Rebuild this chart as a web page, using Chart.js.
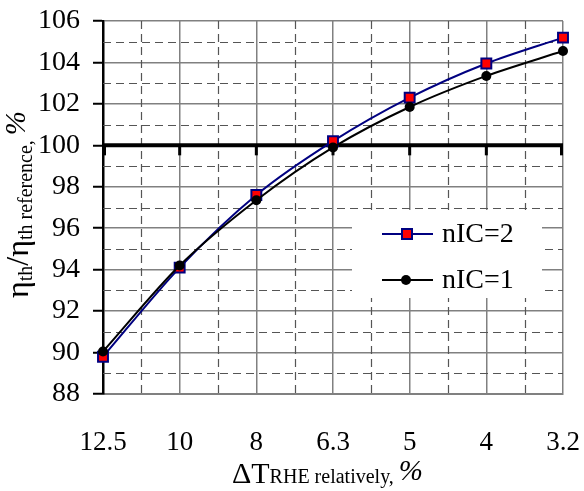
<!DOCTYPE html>
<html>
<head>
<meta charset="utf-8">
<script src="https://cdn.jsdelivr.net/npm/chart.js@4"></script>
<style>
html,body{margin:0;padding:0;background:#fff;}
#wrap{position:relative;width:584px;height:491px;}
</style>
</head>
<body>
<div id="wrap"><canvas id="c"></canvas></div>
<script>
const categories = ['12.5', '10', '8', '6.3', '5', '4', '3.2'];
const seriesNIC2 = [89.8, 94.1, 97.6, 100.2, 102.3, 103.95, 105.2];
const seriesNIC1 = [90.05, 94.2, 97.35, 99.9, 101.85, 103.35, 104.55];
const seriesNames = ['nIC=2', 'nIC=1'];
const yMin = 88, yMax = 106, yStep = 2;
const referenceLevel = 100;

const SERIF = "'Liberation Serif', 'DejaVu Serif', 'Times New Roman', serif";

const gridPlugin = {
  id: 'gridExtras',
  beforeDatasetsDraw(chart) {
    const {ctx, chartArea: a, scales: {x, y}} = chart;
    ctx.save();
    ctx.strokeStyle = '#555';
    ctx.lineWidth = 1.2;
    ctx.setLineDash([8, 5]);
    for (let v = yMin + yStep / 2; v < yMax; v += yStep) {
      const py = Math.round(y.getPixelForValue(v)) + 0.5;
      ctx.beginPath(); ctx.moveTo(a.left, py); ctx.lineTo(a.right, py); ctx.stroke();
    }
    for (let i = 0; i < categories.length - 1; i++) {
      const px = Math.round((x.getPixelForValue(i) + x.getPixelForValue(i + 1)) / 2) + 0.5;
      ctx.beginPath(); ctx.moveTo(px, a.top); ctx.lineTo(px, a.bottom); ctx.stroke();
    }
    ctx.setLineDash([]);
    const ry = y.getPixelForValue(referenceLevel);
    ctx.strokeStyle = '#000';
    ctx.lineWidth = 4;
    ctx.beginPath(); ctx.moveTo(a.left, ry); ctx.lineTo(a.right, ry); ctx.stroke();
    ctx.lineWidth = 3;
    for (let i = 0; i < categories.length; i++) {
      let px = x.getPixelForValue(i);
      if (i === 0) px += 1.5;
      if (i === categories.length - 1) px -= 1.5;
      ctx.beginPath(); ctx.moveTo(px, ry); ctx.lineTo(px, ry + 10); ctx.stroke();
    }
    ctx.restore();
  },
  afterDatasetsDraw(chart) {
    const {ctx} = chart;
    ctx.save();
    const bx = 352, by = 210, bw = 190, bh = 88;
    ctx.fillStyle = '#fff';
    ctx.fillRect(bx, by, bw, bh);
    const items = [
      {label: seriesNames[0], color: '#000080', y: 234, type: 'rect'},
      {label: seriesNames[1], color: '#000', y: 280, type: 'circle'}
    ];
    for (const it of items) {
      ctx.strokeStyle = it.color;
      ctx.lineWidth = 2;
      ctx.beginPath(); ctx.moveTo(382, it.y); ctx.lineTo(433, it.y); ctx.stroke();
      if (it.type === 'rect') {
        ctx.fillStyle = '#ff0000';
        ctx.fillRect(402, it.y - 5, 10, 10);
        ctx.strokeStyle = '#000080';
        ctx.lineWidth = 2;
        ctx.strokeRect(402, it.y - 5, 10, 10);
      } else {
        ctx.fillStyle = '#000';
        ctx.beginPath(); ctx.arc(406, it.y, 5, 0, Math.PI * 2); ctx.fill();
      }
      ctx.fillStyle = '#000';
      ctx.font = '28px ' + SERIF;
      ctx.textAlign = 'left';
      ctx.textBaseline = 'middle';
      ctx.fillText(it.label, 442, it.y + 1);
    }
    ctx.restore();
  },
  afterDraw(chart) {
    const {ctx} = chart;
    ctx.save();
    ctx.fillStyle = '#000';
    ctx.textBaseline = 'alphabetic';
    ctx.textAlign = 'left';
    let xx = 232, base = 483;
    ctx.font = '30px ' + SERIF;
    ctx.fillText('\u0394T', xx, base);
    xx += ctx.measureText('\u0394T').width;
    ctx.font = '20px ' + SERIF;
    ctx.fillText('RHE relatively,', xx, base);
    xx += ctx.measureText('RHE relatively, ').width;
    ctx.font = 'italic 29px ' + SERIF;
    ctx.fillText('%', xx, base - 3);
    ctx.translate(28, 298);
    ctx.rotate(-Math.PI / 2);
    let yy = 0;
    const parts = [
      {t: '\u03b7', f: '32px ' + SERIF, d: 0},
      {t: 'th', f: '20px ' + SERIF, d: 4},
      {t: '/\u03b7', f: '32px ' + SERIF, d: 0},
      {t: 'th reference, ', f: '20px ' + SERIF, d: 4},
      {t: '%', f: 'italic 29px ' + SERIF, d: -3}
    ];
    for (const p of parts) {
      ctx.font = p.f;
      ctx.fillText(p.t, yy, p.d);
      yy += ctx.measureText(p.t).width;
    }
    ctx.restore();
  }
};

function build() {
  new Chart(document.getElementById('c'), {
    type: 'line',
    data: {
      labels: categories,
      datasets: [
        {
          label: seriesNames[0],
          data: seriesNIC2,
          borderColor: '#000080',
          borderWidth: 2,
          pointStyle: 'rect',
          pointRadius: 7,
          pointBackgroundColor: '#ff0000',
          pointBorderColor: '#000080',
          pointBorderWidth: 2,
          tension: 0.3,
          order: 1
        },
        {
          label: seriesNames[1],
          data: seriesNIC1,
          borderColor: '#000',
          borderWidth: 2,
          pointStyle: 'circle',
          pointRadius: 5,
          pointBackgroundColor: '#000',
          pointBorderColor: '#000',
          pointBorderWidth: 0,
          tension: 0.3,
          order: 0
        }
      ]
    },
    options: {
      responsive: true,
      maintainAspectRatio: false,
      animation: false,
      layout: {padding: {left: 0, right: 21, top: 21, bottom: 0}},
      plugins: {legend: {display: false}, tooltip: {enabled: false}},
      scales: {
        x: {
          offset: false,
          grid: {color: '#808080', lineWidth: 1.5, drawTicks: false},
          border: {color: '#808080', width: 2},
          ticks: {color: '#000', font: {family: SERIF, size: 27}, padding: 33, maxRotation: 0},
          afterFit(s) { s.height = 97; s.paddingLeft = 0; s.paddingRight = 0; }
        },
        y: {
          min: yMin,
          max: yMax,
          grid: {color: '#808080', lineWidth: 1.5, drawTicks: true, tickLength: 10, tickColor: '#000', tickWidth: 2},
          border: {color: '#000', width: 2.5},
          ticks: {stepSize: yStep, color: '#000', font: {family: SERIF, size: 28}, padding: 13},
          afterFit(s) { s.width = 103; s.paddingTop = 0; s.paddingBottom = 0; }
        }
      }
    },
    plugins: [gridPlugin]
  });
}
Promise.all([
  document.fonts.load("28px 'Liberation Serif'"),
  document.fonts.load("italic 28px 'Liberation Serif'")
]).then(build, build);
</script>
</body>
</html>
